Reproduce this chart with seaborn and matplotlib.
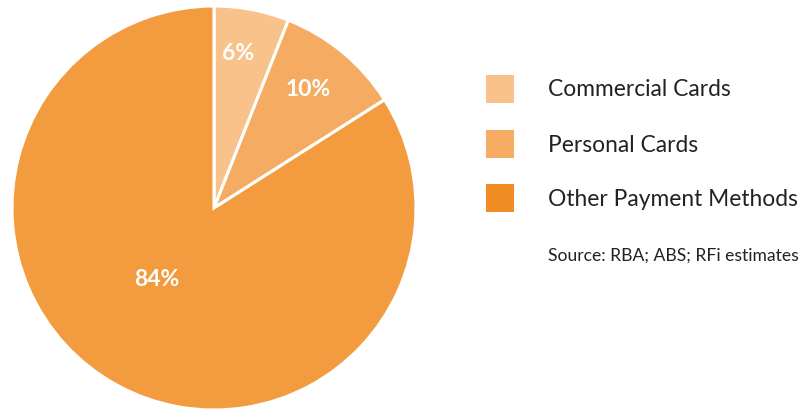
import matplotlib
matplotlib.use("Agg")
import matplotlib.pyplot as plt
from matplotlib.patches import Rectangle
import seaborn as sns

categories = ["Commercial Cards", "Personal Cards", "Other Payment Methods"]
shares = [6, 10, 84]
slice_colors = ["#F8C28A", "#F5AC62", "#F39C3F"]
legend_colors = ["#F8C28A", "#F5AC62", "#F08C22"]
source_note = "Source: RBA; ABS; RFi estimates"

sns.set_theme(style="white")
plt.rcParams['font.family'] = ['Lato', 'DejaVu Sans']

W, H = 803, 412
fig = plt.figure(figsize=(W / 100, H / 100), dpi=100)
fig.patch.set_facecolor("white")

cx, cy, r = 214, 208, 202
ax = fig.add_axes([(cx - r) / W, (H - cy - r) / H, 2 * r / W, 2 * r / H])
wedges, texts, autotexts = ax.pie(
    shares, colors=sns.color_palette(slice_colors), startangle=90, counterclock=False,
    autopct=lambda p: f"{p:.0f}%", pctdistance=0.77,
    wedgeprops=dict(edgecolor="white", linewidth=2.2),
    textprops=dict(color="white", fontsize=16.5, fontweight="bold"))
ax.set_xlim(-1, 1)
ax.set_ylim(-1, 1)
ax.set_aspect("equal")
for w in wedges:
    w.set_clip_on(False)
# label placement as in the reference
label_pos = [(0.119, 0.767), (0.465, 0.589), (-0.282, -0.356)]
for t, p in zip(autotexts, label_pos):
    t.set_position(p)

# legend: colour squares and labels
sq = 28
row_y = [89, 144, 198]
for c, lab, y in zip(legend_colors, categories, row_y):
    fig.patches.append(Rectangle((486 / W, 1 - (y + sq / 2) / H), sq / W, sq / H,
                                 transform=fig.transFigure, facecolor=c,
                                 edgecolor="none"))
    fig.text(548 / W, 1 - (y + 1) / H, lab, fontsize=16.4, color="#222222",
             ha="left", va="center")

fig.text(548 / W, 1 - 256 / H, source_note, fontsize=12.6, color="#222222",
         ha="left", va="center")

fig.savefig("out.png", dpi=100, facecolor="white")
